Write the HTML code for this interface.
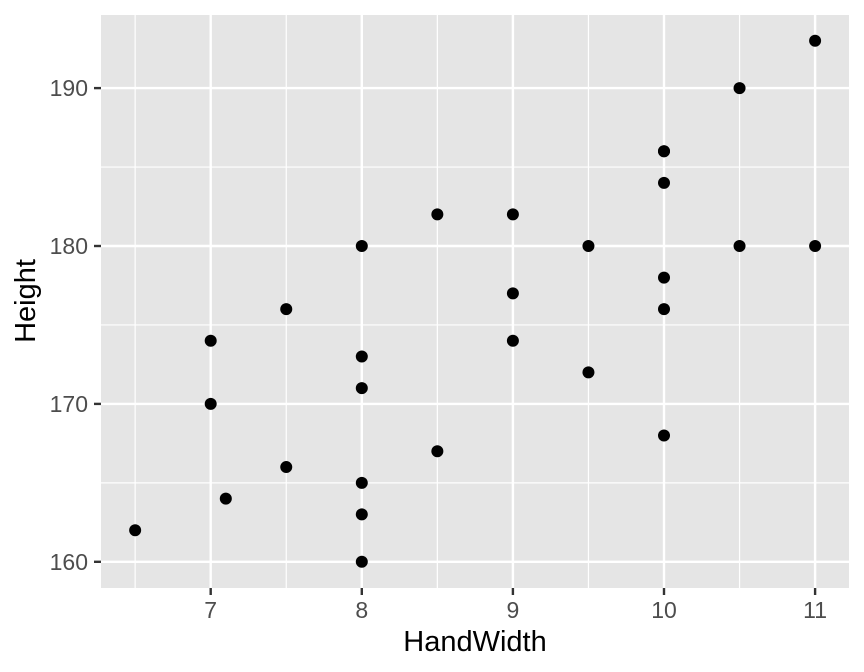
<!DOCTYPE html>
<html>
<head>
<meta charset="utf-8">
<style>
html,body{margin:0;padding:0;background:#fff;}
svg{display:block;font-family:"Liberation Sans",Arial,sans-serif;}
</style>
</head>
<body>
<svg id="chart" width="864" height="672" viewBox="0 0 864 672" xmlns="http://www.w3.org/2000/svg">
<rect width="864" height="672" fill="#fff"/>
<rect x="101" y="15" width="748" height="573" fill="#e5e5e5"/>
<g id="grid"></g>
<g id="points"></g>
<g id="axes"></g>
<text x="475" y="651" font-size="29" text-anchor="middle" fill="#000">HandWidth</text>
<text transform="translate(35,301) rotate(-90)" font-size="29" text-anchor="middle" fill="#000">Height</text>
</svg>
<script>
const handWidth = [6.5,7,7,7.1,7.5,7.5,8,8,8,8,8,8,8.5,8.5,9,9,9,9.5,9.5,10,10,10,10,10,10,10.5,10.5,11,11];
const height = [162,170,174,164,166,176,160,163,165,171,173,180,167,182,174,177,182,172,180,168,176,178,184,186,186,180,190,180,193];
const xTicks = [7,8,9,10,11];
const yTicks = [160,170,180,190];
const xMinor = [6.5,7.5,8.5,9.5,10.5];
const yMinor = [165,175,185];

const NS = 'http://www.w3.org/2000/svg';
const xScale = v => 210.7 + (v - 7) * 151.1;
const yScale = v => 561.8 - (v - 160) * 15.79;
const panel = {left: 101, right: 849, top: 15, bottom: 588};

function make(tag, parent, attrs) {
  const el = document.createElementNS(NS, tag);
  for (const k in attrs) el.setAttribute(k, attrs[k]);
  parent.appendChild(el);
  return el;
}
const grid = document.getElementById('grid');
const axes = document.getElementById('axes');
const pts = document.getElementById('points');

yMinor.forEach(v => {
  const l = make('line', grid, {x1: panel.left, x2: panel.right, y1: yScale(v), y2: yScale(v), stroke: '#fff', 'stroke-width': 1.2});
  
  
});
xMinor.forEach(v => {
  const l = make('line', grid, {x1: xScale(v), x2: xScale(v), y1: panel.top, y2: panel.bottom, stroke: '#fff', 'stroke-width': 1.2});
  
  
});
yTicks.forEach(v => {
  const y = yScale(v);
  const l = make('line', grid, {x1: panel.left, x2: panel.right, y1: y, y2: y, stroke: '#fff', 'stroke-width': 2.4});
  
  
  const t = make('line', axes, {x1: panel.left - 7, x2: panel.left, y1: y, y2: y, stroke: '#333', 'stroke-width': 2.4});
  
  
  const s = make('text', axes, {x: 88, y: y + 8, 'font-size': 23, 'text-anchor': 'end', fill: '#4d4d4d'});
  
  
  s.textContent = v;
});
xTicks.forEach(v => {
  const x = xScale(v);
  const l = make('line', grid, {x1: x, x2: x, y1: panel.top, y2: panel.bottom, stroke: '#fff', 'stroke-width': 2.4});
  
  
  const t = make('line', axes, {x1: x, x2: x, y1: panel.bottom, y2: panel.bottom + 7, stroke: '#333', 'stroke-width': 2.4});
  
  
  const s = make('text', axes, {x: x, y: 618, 'font-size': 23, 'text-anchor': 'middle', fill: '#4d4d4d'});
  
  
  s.textContent = v;
});
handWidth.forEach((v, i) => {
  const c = make('circle', pts, {cx: xScale(v), cy: yScale(height[i]), r: 6, fill: '#000'});
  
  
});
</script>
</body>
</html>
